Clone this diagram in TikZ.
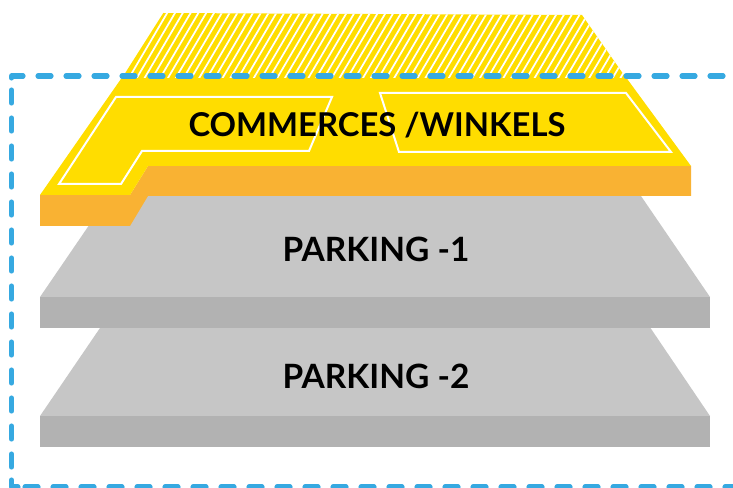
\documentclass[tikz,border=0pt]{standalone}
\usepackage{fontspec}
\setmainfont{Lato}
\definecolor{ylw}{HTML}{FFDD00}
\definecolor{org}{HTML}{F9B233}
\definecolor{gtop}{HTML}{C6C6C6}
\definecolor{gside}{HTML}{B2B2B2}
\definecolor{blu}{HTML}{36A9E1}
\tikzset{
  lbl/.style={font=\bfseries\fontsize{24.6}{30}\selectfont, text=black, inner sep=0pt},
  plbl/.style={lbl, font=\bfseries\fontsize{25.1}{30}\selectfont},
  outl/.style={draw=white, line width=1.5pt, line join=miter},
  dsh/.style={draw=blu, line width=3.8pt, line cap=round, dash pattern=on 9.8pt off 11.2pt},
  stub/.style={draw=blu, line width=3.8pt, line cap=round, line join=round},
  hat/.style={draw=white, line width=1.3pt}
}
\begin{document}
\begin{tikzpicture}[x=0.75pt,y=-0.75pt]
\useasboundingbox (0,0) rectangle (733,488);
\clip (0,0) rectangle (733,488);
% parking -2
\fill[gtop] (40,416) -- (100,328) -- (650.5,328) -- (710,416) -- cycle;
\fill[gside] (40,416) rectangle (710,447);
\node[plbl] (p2) at (376,376) {PARKING -2};
% parking -1
\fill[gtop] (40,297) -- (109,196) -- (641,196) -- (710,297) -- cycle;
\fill[gside] (40,297) rectangle (710,328);
\node[plbl] (p1) at (376,249.5) {PARKING -1};
% commerces
\fill[org] (40,195) -- (130,195) -- (148,166) -- (691,166) -- (691,196) -- (148,196) -- (130,226) -- (40,226) -- cycle;
\fill[ylw] (40,195) -- (123,76) -- (625,76) -- (691,166) -- (148,166) -- (130,195) -- cycle;
\begin{scope}
\clip (122,78) -- (163.3,13) -- (582,15) -- (626,78) -- cycle;
\fill[ylw] (100,0) rectangle (650,80);
\foreach \i in {0,...,68}
  \draw[hat] ({120+7.8*\i},80) -- ({120+7.8*\i+47},0);
\end{scope}
\draw[outl] (116,97) -- (332,97) -- (309,151) -- (142,151) -- (121,184) -- (59,184) -- cycle;
\draw[outl] (380,93) -- (626,93) -- (671,152) -- (399,152) -- cycle;
\node[lbl] (c) at (377,125) {COMMERCES /WINKELS};
% dashed frame
\draw[dsh, dash phase=6pt] (18,76) -- (733,76);
\draw[dsh, dash phase=0pt] (11.5,90) -- (11.5,478);
\draw[dsh] (25,487) -- (733,487);
\draw[stub] (18,76) -- (11.5,76) -- (11.5,78);
\draw[stub] (11.5,480) -- (11.5,487) -- (18,487);
\end{tikzpicture}
\end{document}
